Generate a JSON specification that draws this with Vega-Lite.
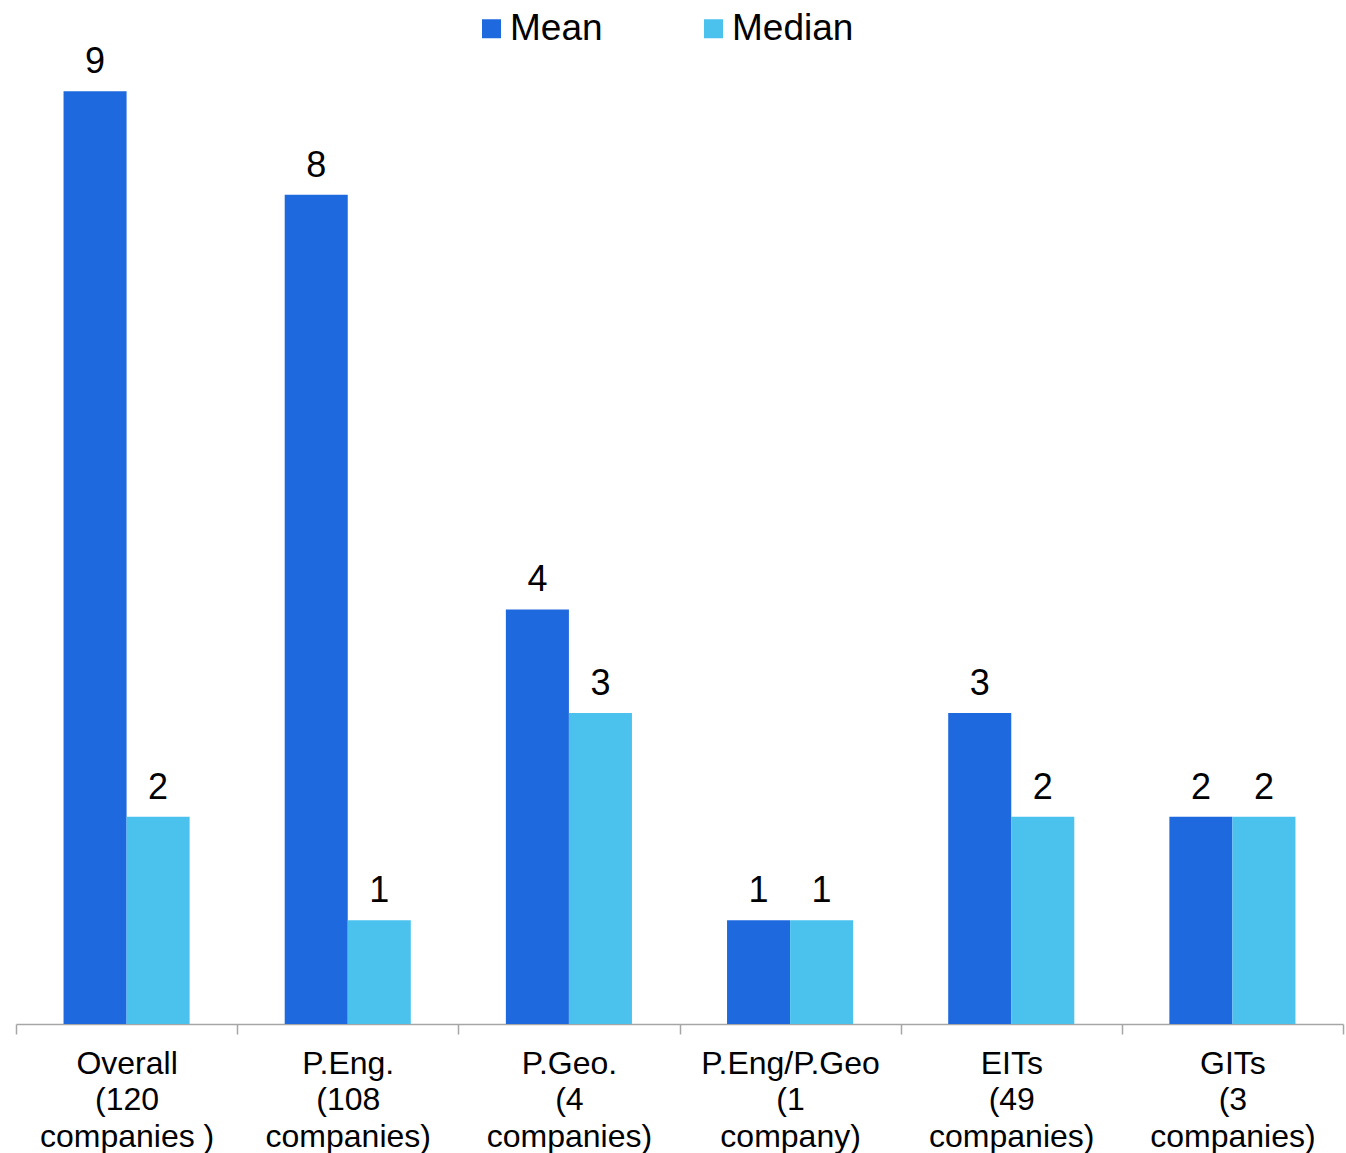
{
  "$schema": "https://vega.github.io/schema/vega-lite/v6.json",
  "autosize": "none",
  "width": 1327,
  "height": 1024,
  "padding": {"left": 16, "top": 0, "right": 3, "bottom": 129},
  "background": "white",
  "config": {
    "view": {"stroke": null},
    "font": "Liberation Sans"
  },
  "data": {
    "values": [
      {"group": "Overall|(120|companies )", "stat": "Mean", "value": 9},
      {"group": "Overall|(120|companies )", "stat": "Median", "value": 2},
      {"group": "P.Eng.|(108|companies)", "stat": "Mean", "value": 8},
      {"group": "P.Eng.|(108|companies)", "stat": "Median", "value": 1},
      {"group": "P.Geo.|(4|companies)", "stat": "Mean", "value": 4},
      {"group": "P.Geo.|(4|companies)", "stat": "Median", "value": 3},
      {"group": "P.Eng/P.Geo|(1|company)", "stat": "Mean", "value": 1},
      {"group": "P.Eng/P.Geo|(1|company)", "stat": "Median", "value": 1},
      {"group": "EITs|(49|companies)", "stat": "Mean", "value": 3},
      {"group": "EITs|(49|companies)", "stat": "Median", "value": 2},
      {"group": "GITs|(3|companies)", "stat": "Mean", "value": 2},
      {"group": "GITs|(3|companies)", "stat": "Median", "value": 2}
    ]
  },
  "encoding": {
    "x": {
      "field": "group",
      "type": "nominal",
      "sort": null,
      "title": null,
      "scale": {"paddingInner": 0, "paddingOuter": 0},
      "axis": {
        "labelAngle": 0,
        "labelExpr": "split(datum.label, '|')",
        "labelFont": "Liberation Sans",
        "labelFontSize": 32,
        "labelLineHeight": 36.5,
        "labelColor": "black",
        "labelPadding": 14,
        "labelBaseline": "top",
        "domainColor": "#a6a6a6",
        "domainWidth": 1.5,
        "tickColor": "#a6a6a6",
        "tickWidth": 1.5,
        "tickSize": 10,
        "tickBand": "extent",
        "labelLimit": 300
      }
    },
    "xOffset": {
      "field": "stat",
      "type": "nominal",
      "scale": {"paddingInner": 0, "paddingOuter": 0.754}
    },
    "y": {
      "field": "value",
      "type": "quantitative",
      "scale": {"domain": [0, 9.88], "nice": false},
      "axis": null
    }
  },
  "layer": [
    {
      "mark": {"type": "bar"},
      "encoding": {
        "color": {
          "field": "stat",
          "type": "nominal",
          "scale": {"domain": ["Mean", "Median"], "range": ["#1f69df", "#4bc2ee"]},
          "legend": {
            "title": null,
            "orient": "none",
            "direction": "horizontal",
            "legendX": 457,
            "legendY": 10,
            "symbolType": "square",
            "symbolSize": 361,
            "symbolStrokeWidth": 0,
            "symbolOpacity": 1,
            "labelFont": "Liberation Sans",
            "labelFontSize": 37,
            "labelColor": "black",
            "labelOffset": 0,
            "columnPadding": 92
          }
        }
      }
    },
    {
      "mark": {
        "type": "text",
        "baseline": "alphabetic",
        "dy": -18,
        "fontSize": 36,
        "font": "Liberation Sans",
        "color": "black"
      },
      "encoding": {
        "text": {"field": "value", "type": "quantitative"}
      }
    }
  ]
}
